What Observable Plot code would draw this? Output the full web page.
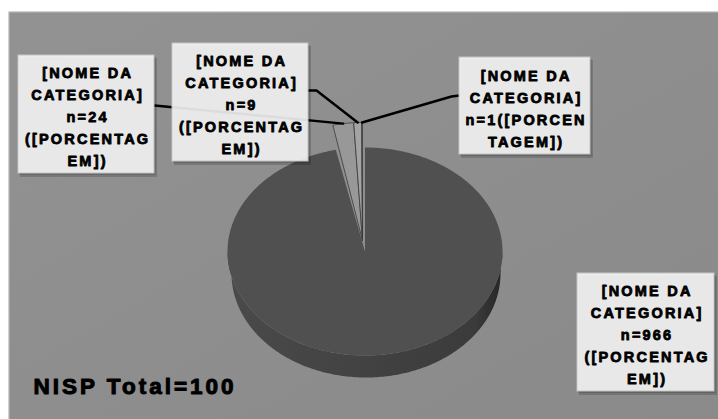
<!DOCTYPE html>
<html><head><meta charset="utf-8">
<script src="https://cdn.jsdelivr.net/npm/d3@7"></script>
<script src="https://cdn.jsdelivr.net/npm/@observablehq/plot@0.6"></script>
<style>
html,body{margin:0;padding:0;background:#fff;}
#chart svg{display:block;}
#chart svg text{letter-spacing:2.2px;}
#chart svg g.total text{letter-spacing:3px;}
</style></head><body><div id="chart"></div>
<script>
// ---- data ----
const categories = ["[NOME DA CATEGORIA]", "[NOME DA CATEGORIA]", "[NOME DA CATEGORIA]", "[NOME DA CATEGORIA]"];
const counts = [966, 24, 9, 1];
const labelLines = [
  ["[NOME DA", "CATEGORIA]", "n=966", "([PORCENTAG", "EM])"],
  ["[NOME DA", "CATEGORIA]", "n=24", "([PORCENTAG", "EM])"],
  ["[NOME DA", "CATEGORIA]", "n=9", "([PORCENTAG", "EM])"],
  ["[NOME DA", "CATEGORIA]", "n=1([PORCEN", "TAGEM])"]
];
const totalLabel = "NISP Total=100";

// ---- layout & style ----
const W = 718, H = 419;
const sliceFills = ["#505050", "#989898", "#a4a4a4", "#b4b4b4"];
const PIE = {cx: 364.5, cy: 251, rx: 137.5, ry: 104, depth: 22};
const PIE_BOTTOM = {cx: 365.5, cy: 273, rx: 134.5, ry: 104};
const EXP = {cx: 362, cy: 240, rx: 140, ry: 118};
const boxes = [
  {x1: 577, x2: 714, y1: 273, y2: 391, anchor: null},
  {x1: 18, x2: 154, y1: 55, y2: 173, anchor: [[154, 105]]},
  {x1: 172, x2: 308, y1: 43, y2: 161, anchor: [[308, 90], [316, 90]]},
  {x1: 459, x2: 590, y1: 57, y2: 154, anchor: [[459, 95], [451, 96]]}
];

const arcs = d3.pie().sort(null).startAngle(0).endAngle(2 * Math.PI)(counts);
const pt = (g, a) => [g.cx + g.rx * Math.sin(a), g.cy - g.ry * Math.cos(a)];

function slicePoly(i) {
  const s = arcs[i], g = i === 0 ? PIE : EXP;
  const n = Math.max(6, Math.ceil((s.endAngle - s.startAngle) / 0.01));
  const pts = [[g.cx, g.cy]];
  for (let k = 0; k <= n; k++) pts.push(pt(g, s.startAngle + (s.endAngle - s.startAngle) * k / n));
  pts.push([g.cx, g.cy]);
  return pts.map(([x, y]) => ({x, y, slice: categories[i] + i}));
}
function sidePoly() {
  const s = arcs[0];
  const a0 = Math.max(s.startAngle, Math.PI / 2), a1 = Math.min(s.endAngle, 3 * Math.PI / 2);
  const n = 200, top = [], bot = [];
  for (let k = 0; k <= n; k++) {
    const a = a0 + (a1 - a0) * k / n;
    top.push(pt(PIE, a));
    bot.push(pt(PIE_BOTTOM, a));
  }
  return top.concat(bot.reverse()).map(([x, y]) => ({x, y}));
}
function tip(i) {
  const s = arcs[i];
  return pt(EXP, (s.startAngle + s.endAngle) / 2);
}

const marks = [];
// panel
marks.push(Plot.rect([0], {x1: () => 9, x2: () => W + 2, y1: () => 12, y2: () => H + 2, fill: "url(#bg)", stroke: "#b4b4b4", strokeWidth: 1.2}));
// pie side
marks.push(Plot.line(sidePoly(), {x: "x", y: "y", fill: "url(#side)", stroke: "none"}));
// slices
arcs.forEach((s, i) => {
  marks.push(Plot.line(slicePoly(i), {x: "x", y: "y", fill: sliceFills[i],
    stroke: i === 0 ? "none" : "#3a3a3a", strokeWidth: 0.8}));
});
// leaders
boxes.forEach((b, i) => {
  if (!b.anchor) return;
  const pts = b.anchor.concat([tip(i)]).map(([x, y]) => ({x, y}));
  marks.push(Plot.line(pts, {x: "x", y: "y", stroke: "#000", strokeWidth: 2.4}));
});
// box shadows
marks.push(Plot.rect(boxes, {x1: d => d.x1 + 2, x2: d => d.x2 + 3, y1: d => d.y1 + 3, y2: d => d.y2 + 4, fill: "#000", fillOpacity: 0.16}));
marks.push(Plot.rect(boxes, {x1: d => d.x1 + 1, x2: d => d.x2 + 1.5, y1: d => d.y1 + 1.5, y2: d => d.y2 + 2, fill: "#000", fillOpacity: 0.14}));
// boxes
marks.push(Plot.rect(boxes, {x1: "x1", x2: "x2", y1: "y1", y2: "y2", fill: "#fbfbfb", fillOpacity: 0.88, stroke: "#c4c4c4", strokeWidth: 1}));
// labels
marks.push(Plot.text(boxes, {
  x: d => (d.x1 + d.x2) / 2 + 1.1, y: d => (d.y1 + d.y2) / 2 + 0.5,
  text: (d, i) => labelLines[i].join("\n"),
  fontSize: 14.5, fontWeight: "bold", lineHeight: 22 / 14.5, fill: "#000",
  stroke: "#000", strokeWidth: 0.8, textAnchor: "middle"
}));
// total
marks.push(Plot.text([totalLabel], {x: () => 33, y: () => 386, text: d => d, textAnchor: "start",
  fontSize: 22.5, fontWeight: "bold", fill: "#000", stroke: "#000", strokeWidth: 1}));

const chart = Plot.plot({
  width: W, height: H,
  margin: 0, marginTop: 0, marginRight: 0, marginBottom: 0, marginLeft: 0,
  x: {domain: [0, W], range: [0, W], axis: null},
  y: {domain: [0, H], range: [0, H], axis: null},
  style: {background: "#ffffff", fontFamily: "'Liberation Sans', Arial, sans-serif", overflow: "hidden"},
  marks
});
chart.insertAdjacentHTML("afterbegin",
  `<defs>
    <linearGradient id="bg" x1="0" y1="0" x2="1" y2="1">
      <stop offset="0" stop-color="#929292"/><stop offset="1" stop-color="#8a8a8a"/>
    </linearGradient>
    <linearGradient id="side" x1="0" y1="0" x2="1" y2="0">
      <stop offset="0" stop-color="#4a4a4a"/><stop offset="0.5" stop-color="#424242"/>
      <stop offset="0.9" stop-color="#3b3b3b"/><stop offset="1" stop-color="#262626"/>
    </linearGradient>
  </defs>`);
const textGroups = chart.querySelectorAll('g[aria-label="text"]');
if (textGroups.length) textGroups[textGroups.length - 1].classList.add("total");
document.getElementById("chart").appendChild(chart);
</script></body></html>
